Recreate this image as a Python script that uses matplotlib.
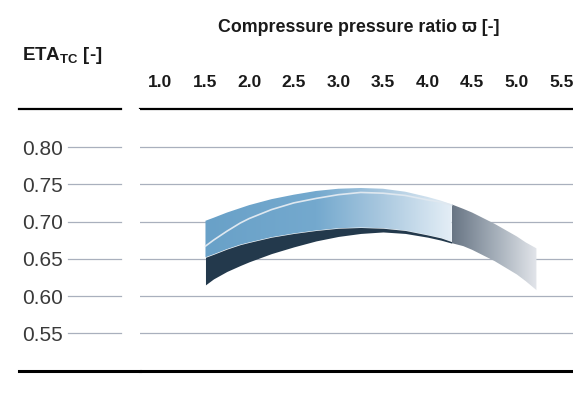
import numpy as np
import matplotlib
matplotlib.use("Agg")
from matplotlib import pyplot as plt
from matplotlib.colors import LinearSegmentedColormap
from matplotlib.path import Path

# pressure ratio positions where the band was read
ratio_blue = [1.51, 1.6, 1.75, 1.9, 2.0, 2.25, 2.5, 2.75, 3.0, 3.25, 3.5, 3.75, 4.0, 4.15, 4.27]
eta_top = [0.701, 0.705, 0.712, 0.718, 0.722, 0.730, 0.736, 0.741, 0.744, 0.745, 0.744, 0.740, 0.733, 0.728, 0.723]
eta_line = [0.667, 0.675, 0.687, 0.698, 0.704, 0.716, 0.725, 0.731, 0.736, 0.739, 0.738, 0.735, 0.729, 0.726, 0.722]
eta_mid = [0.652, 0.656, 0.663, 0.669, 0.672, 0.679, 0.684, 0.688, 0.691, 0.692, 0.691, 0.688, 0.682, 0.678, 0.673]
eta_dark = [0.615, 0.623, 0.633, 0.641, 0.646, 0.657, 0.666, 0.674, 0.680, 0.684, 0.686, 0.684, 0.679, 0.675, 0.671]

ratio_grey = [4.27, 4.4, 4.5, 4.75, 5.0, 5.1, 5.22]
grey_top = [0.723, 0.717, 0.712, 0.697, 0.680, 0.672, 0.664]
grey_bot = [0.671, 0.667, 0.662, 0.647, 0.629, 0.620, 0.608]

xticks = [1.0, 1.5, 2.0, 2.5, 3.0, 3.5, 4.0, 4.5, 5.0, 5.5]
yticks = [0.55, 0.60, 0.65, 0.70, 0.75, 0.80]

plt.rcParams['font.family'] = ['Liberation Sans', 'DejaVu Sans']
plt.rcParams['mathtext.fontset'] = 'custom'
plt.rcParams['mathtext.rm'] = 'Liberation Sans:bold'

W, H = 573, 401
fig = plt.figure(figsize=(W / 100, H / 100), dpi=100)
bottom = 1 - 371 / H
height = (371 - 109) / H
ylim = (0.4994, 0.851)
grid_col = '#a9b0bd'

# main plot area
ax = fig.add_axes([140 / W, bottom, (W - 140) / W, height])
ax.set_xlim(0.776, 5.63)
ax.set_ylim(*ylim)
for s in ['left', 'right', 'bottom']:
    ax.spines[s].set_visible(False)
ax.spines['top'].set_linewidth(1.6)
ax.xaxis.tick_top()
ax.set_xticks(xticks)
ax.set_xticklabels([f"{v:.1f}" for v in xticks], fontsize=12.5, fontweight='bold', color='#1a1a1a')
ax.tick_params(axis='x', length=0, pad=13.5)
ax.set_yticks(yticks)
ax.tick_params(axis='y', length=0, labelleft=False)
ax.yaxis.grid(True, color=grid_col, lw=0.9)
ax.set_axisbelow(True)

# blue top surface with fading gradient
blue_cmap = LinearSegmentedColormap.from_list(
    'blue', [(0, '#69a1c8'), (0.45, '#74a9ce'), (0.7, '#a6c6de'), (1, '#e4eef6')])
poly = ax.fill_between(ratio_blue, eta_top, eta_mid, color='none', lw=0)
grad = np.linspace(0, 1, 256).reshape(1, -1)
im = ax.imshow(grad, cmap=blue_cmap, extent=[ratio_blue[0], ratio_blue[-1], 0.6, 0.76],
               aspect='auto', origin='lower', zorder=2)
im.set_clip_path(Path(poly.get_paths()[0].vertices), ax.transData)

# dark front face
ax.fill_between(ratio_blue, eta_mid, eta_dark, color='#23394c', lw=0, zorder=2)

# grey section
grey_cmap = LinearSegmentedColormap.from_list('grey', ['#687584', '#a3adb8', '#e2e5ea'])
poly2 = ax.fill_between(ratio_grey, grey_top, grey_bot, color='none', lw=0)
im2 = ax.imshow(grad, cmap=grey_cmap, extent=[ratio_grey[0], ratio_grey[-1], 0.6, 0.73],
                aspect='auto', origin='lower', zorder=2)
im2.set_clip_path(Path(poly2.get_paths()[0].vertices), ax.transData)

# light line inside the band
ax.plot(ratio_blue, eta_line, color='#dfe8f0', lw=1.2, zorder=3)

ax.set_xlim(0.776, 5.63)
ax.set_ylim(*ylim)

# left column with y labels
ax2 = fig.add_axes([19 / W, bottom, 121 / W, height], sharey=ax)
ax2.set_xlim(0, 1)
for s in ['left', 'right', 'top']:
    ax2.spines[s].set_visible(False)
ax2.spines['bottom'].set_linewidth(2.2)
ax.axhline(ylim[0], color='black', lw=2.2, clip_on=False)
ax2.set_xticks([])
ax2.set_yticks(yticks)
ax2.set_yticklabels([f"{v:.2f}" for v in yticks], fontsize=15, color='#3a3a3a', ha='left')
ax2.tick_params(axis='y', length=0, pad=-2)
for v in yticks:
    ax2.axhline(v, xmin=0.405, xmax=0.843, color=grid_col, lw=0.9)
ax2.axhline(ylim[1], xmin=0.0, xmax=0.843, color='black', lw=1.6, clip_on=False)

fig.text(359 / W, 1 - 28 / H, "Compressure pressure ratio \u03d6 [-]",
         ha='center', va='center', fontsize=12.8, fontweight='bold', color='#1a1a1a')
fig.text(22 / W, 1 - 55 / H, r"$\mathrm{ETA}_{\mathrm{TC}}$ [-]",
         ha='left', va='center', fontsize=13.5, fontweight='bold', color='#1a1a1a')

fig.savefig("out.png", dpi=100)
